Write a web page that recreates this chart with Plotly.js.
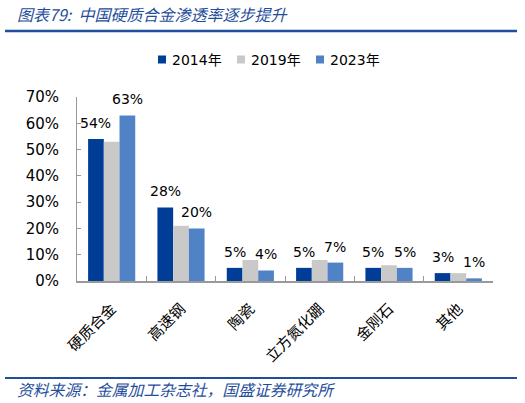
<!DOCTYPE html>
<html><head><meta charset="utf-8">
<script src="https://cdn.plot.ly/plotly-3.0.1.min.js"></script>
<style>body{margin:0;padding:0;background:#fff}#chart{width:525px;height:403px}</style>
</head><body><div id="chart"></div>
<script>
var categories = ["硬质合金","高速钢","陶瓷","立方氮化硼","金刚石","其他"];
var seriesNames = ["2014年","2019年","2023年"];
var v2014 = [54, 28, 5, 5, 5, 3];
var v2019 = [53, 21, 8, 8, 6, 3];
var v2023 = [63, 20, 4, 7, 5, 1];
var colors = ["#003d97", "#c9c9c9", "#4f83c6"];
var showLabels = [true, false, true];
var values = [v2014, v2019, v2023];

var bargap = 0.32;
var nSeries = values.length;
var barW = (1 - bargap) / nSeries;

var traces = values.map(function(v, i){
  return {
    type: 'bar', x: categories, y: v, name: seriesNames[i],
    marker: {color: colors[i]},
    hoverinfo: 'none', showlegend: false
  };
});

var annotations = [];
// data labels anchored to data coordinates
values.forEach(function(v, i){
  if (!showLabels[i]) return;
  v.forEach(function(d, j){
    annotations.push({
      xref: 'x', yref: 'y', x: j + (i - (nSeries - 1) / 2) * barW, y: d,
      text: d + '%', showarrow: false, xanchor: 'center', yanchor: 'middle', yshift: 16,
      font: {family: 'DejaVu Sans', size: 14, color: '#000'}
    });
  });
});

// legend
var legendX = [158, 237, 316];   // pixel x of legend squares
var plotL = 77, plotW = 416, plotT = 97, plotH = 184;
function px2x(p){ return (p - plotL) / plotW; }
function py2y(p){ return (plotT + plotH - p) / plotH; }
var shapes = [
  {type: 'line', xref: 'paper', yref: 'paper', x0: px2x(5), x1: px2x(517), y0: py2y(31), y1: py2y(31),
    line: {color: '#1f4e9b', width: 2.5}},
  {type: 'line', xref: 'paper', yref: 'paper', x0: px2x(5), x1: px2x(517), y0: py2y(378), y1: py2y(378),
    line: {color: '#1f4e9b', width: 2}}
];
seriesNames.forEach(function(n, i){
  shapes.push({type: 'rect', xref: 'paper', yref: 'paper',
    x0: px2x(legendX[i]), x1: px2x(legendX[i] + 8), y0: py2y(63.5), y1: py2y(55.5),
    fillcolor: colors[i], line: {width: 0}});
  annotations.push({xref: 'paper', yref: 'paper', x: px2x(legendX[i] + 12), y: py2y(59.5),
    xanchor: 'left', yanchor: 'middle', showarrow: false, text: n,
    font: {family: 'DejaVu Sans, Noto Sans CJK SC', size: 14, color: '#000'}});
});

annotations.push(
  {xref: 'paper', yref: 'paper', x: px2x(15), y: py2y(14), xanchor: 'left', yanchor: 'middle', showarrow: false,
    text: '<i>图表79:  中国硬质合金渗透率逐步提升</i>',
    font: {family: 'Noto Sans CJK SC', size: 16, color: '#1f4e9b'}},
  {xref: 'paper', yref: 'paper', x: px2x(15), y: py2y(389), xanchor: 'left', yanchor: 'middle', showarrow: false,
    text: '<i>资料来源：金属加工杂志社，国盛证券研究所</i>',
    font: {family: 'Noto Sans CJK SC', size: 15.8, color: '#1f4e9b'}}
);

var layout = {
  width: 525, height: 403,
  margin: {l: plotL, r: 525 - plotL - plotW, t: plotT, b: 403 - plotT - plotH},
  paper_bgcolor: '#fff', plot_bgcolor: '#fff',
  barmode: 'group', bargap: bargap, bargroupgap: 0,
  showlegend: false,
  xaxis: {
    tickangle: -45, ticks: 'inside', tickson: 'boundaries', ticklen: 5, tickcolor: '#999',
    showline: true, linecolor: '#999', linewidth: 2, ticklabelstandoff: 11,
    tickfont: {family: 'Noto Sans CJK SC', size: 15, color: '#000'}
  },
  yaxis: {
    range: [0, 70], dtick: 10, ticksuffix: '%', ticks: 'inside', ticklen: 4, tickcolor: '#999',
    showline: true, linecolor: '#999', showgrid: false, zeroline: false, ticklabelstandoff: 14,
    tickfont: {family: 'DejaVu Sans', size: 15, color: '#000'}
  },
  shapes: shapes,
  annotations: annotations
};
Plotly.newPlot('chart', traces, layout, {staticPlot: true, displayModeBar: false});
</script></body></html>
